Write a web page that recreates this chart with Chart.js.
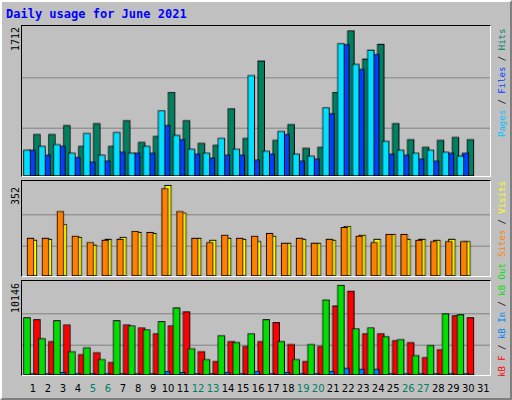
<!DOCTYPE html>
<html>
<head>
<meta charset="utf-8">
<script src="https://cdn.jsdelivr.net/npm/chart.js@4"></script>
<style>
  body { margin: 0; background: #c0c0c0; }
  #frame { position: relative; width: 508px; height: 396px; background: #c0c0c0;
    border: 2px solid; border-color: #ffffff #808080 #808080 #ffffff; overflow: hidden; }
  canvas { position: absolute; box-sizing: content-box; border: 1px solid; border-color: #000 #fff #fff #000; }
  .txt { position: absolute; white-space: nowrap; font-family: 'DejaVu Sans Mono', monospace; }
  .rot { transform: rotate(-90deg); transform-origin: left top; font-size: 9px; line-height: 10px; }
  .day { position: absolute; top: 381px; width: 20px; margin-left: -10px; text-align: center;
    font: 10px 'DejaVu Sans', sans-serif; color: #000; }
</style>
</head>
<body>
<div id="frame">
  <div class="txt" style="left:4px;top:5px;font-size:12px;font-weight:bold;color:#0000ff">Daily usage for June 2021</div>
</div>
<script>
const days = [1,2,3,4,5,6,7,8,9,10,11,12,13,14,15,16,17,18,19,20,21,22,23,24,25,26,27,28,29,30,31];
const weekend = [5,6,12,13,19,20,26,27];

const hits  = [492,492,596,352,619,352,654,399,469,985,654,387,364,794,445,1355,422,608,329,341,985,1712,1378,1553,619,433,341,422,457,433,0];
const files = [306,352,375,271,503,248,515,271,352,770,480,317,271,445,317,1185,294,526,260,236,805,1561,1317,1483,410,306,271,306,283,236,0];
const pages = [306,248,352,224,166,178,283,271,271,596,433,260,213,248,248,190,260,492,178,201,736,1549,1259,1433,260,248,201,178,271,271,0];

const visits = [139,143,201,151,120,143,151,170,166,352,245,147,139,147,143,135,155,128,143,128,139,193,159,143,162,143,143,139,143,135,0];
const sites  = [147,147,251,155,131,139,143,174,170,340,251,147,131,159,147,155,166,128,147,128,143,189,155,131,162,162,139,135,135,135,0];

const kbF   = [6243,3790,5686,2341,2564,1449,5686,5352,4683,5575,7136,2675,1560,3790,3233,3790,5909,3456,1560,3233,7805,9477,4683,4683,3901,3679,2007,2898,6688,6465,0];
const kbIn  = [220,220,330,220,220,220,220,220,220,440,330,220,220,330,220,440,220,330,220,220,440,780,670,670,220,220,220,220,220,220,0];
const kbOut = [6465,4125,6131,2675,3122,1783,6131,5575,5129,6019,7582,2998,1783,4460,3679,4683,6243,3790,1783,3456,8474,10146,5240,5352,4348,4014,2229,3345,6911,6800,0];

const W = 470;
const pxPerDay = 15.01;
const dayMin = 1 - 12 / pxPerDay;
const dayMax = dayMin + W / pxPerDay;
const frame = document.getElementById('frame');

const xAxis = (shiftPx) => ({
  type: 'linear', display: false, offset: false, bounds: 'ticks',
  grid: { offset: false },
  min: dayMin - shiftPx / pxPerDay, max: dayMax - shiftPx / pxPerDay,
});

const ds = (data, color, axis, order) => ({
  data: days.map((d, i) => ({ x: d, y: data[i] })),
  backgroundColor: color, borderColor: '#000', borderWidth: 1,
  borderSkipped: false, barThickness: 7, xAxisID: axis, order,
});

const panel = (top, height, peak, headroom, datasets, shifts) => {
  const c = document.createElement('canvas');
  c.style.left = '19px'; c.style.top = top + 'px';
  c.style.width = W + 'px'; c.style.height = height + 'px';
  c.width = W; c.height = height;
  frame.appendChild(c);
  const scales = {
    y: {
      min: 0, max: peak * headroom, display: true,
      border: { display: false },
      grid: { color: '#808080', drawTicks: false },
      ticks: { display: false },
      afterBuildTicks: (s) => { s.ticks = [{ value: peak * 0.33 }, { value: peak * 0.675 }]; },
    },
  };
  Object.keys(shifts).forEach((k) => { scales[k] = xAxis(shifts[k]); });
  new Chart(c, {
    type: 'bar',
    data: { datasets },
    options: {
      animation: false, responsive: false, devicePixelRatio: 1,
      layout: { padding: 0 },
      plugins: { legend: { display: false }, tooltip: { enabled: false } },
      scales,
    },
  });
};

panel(23, 152, Math.max(...hits), 1.031, [
  ds(files, '#00e0ff', 'xf', 1),
  ds(pages, '#0040ff', 'xp', 2),
  ds(hits, '#008060', 'xh', 3),
], { xf: 0, xp: -2, xh: -4 });

panel(178, 97, Math.max(...visits), 1.047, [
  ds(sites, '#ff8000', 'xf', 1),
  ds(visits, '#ffff00', 'xh', 2),
], { xf: 0, xh: -4 });

panel(278, 96, Math.max(...kbOut), 1.044, [
  ds(kbOut, '#00e000', 'xf', 1),
  ds(kbIn, '#0080ff', 'xp', 2),
  ds(kbF, '#ff0000', 'xh', 3),
], { xf: 0, xp: -2, xh: -4 });

// rotated labels
const rot = (x, bottom, html) => {
  const d = document.createElement('div');
  d.className = 'txt rot';
  d.style.left = x + 'px'; d.style.top = bottom + 'px';
  d.innerHTML = html;
  frame.appendChild(d);
};
const sep = '<span style="color:#000"> / </span>';
rot(9, 49, '<span style="font-size:10px">' + Math.max(...hits) + '</span>');
rot(9, 203, '<span style="font-size:10px">' + Math.max(...visits) + '</span>');
rot(9, 311, '<span style="font-size:10px">' + Math.max(...kbOut) + '</span>');
rot(495, 135, '<span style="color:#00c0ff">Pages</span>' + sep + '<span style="color:#0040ff">Files</span>' + sep + '<span style="color:#008060">Hits</span>');
rot(495, 255, '<span style="color:#ff8000">Sites</span>' + sep + '<span style="color:#ffff00">Visits</span>');
rot(495, 375, '<span style="color:#ff0000">kB F</span>' + sep + '<span style="color:#0080ff">kB In</span>' + sep + '<span style="color:#00e000">kB Out</span>');

days.forEach((d) => {
  const s = document.createElement('div');
  s.className = 'day';
  s.style.left = (19 + (d - dayMin) * pxPerDay) + 'px';
  s.style.color = weekend.includes(d) ? '#008060' : '#000';
  s.textContent = d;
  frame.appendChild(s);
});
</script>
</body>
</html>
